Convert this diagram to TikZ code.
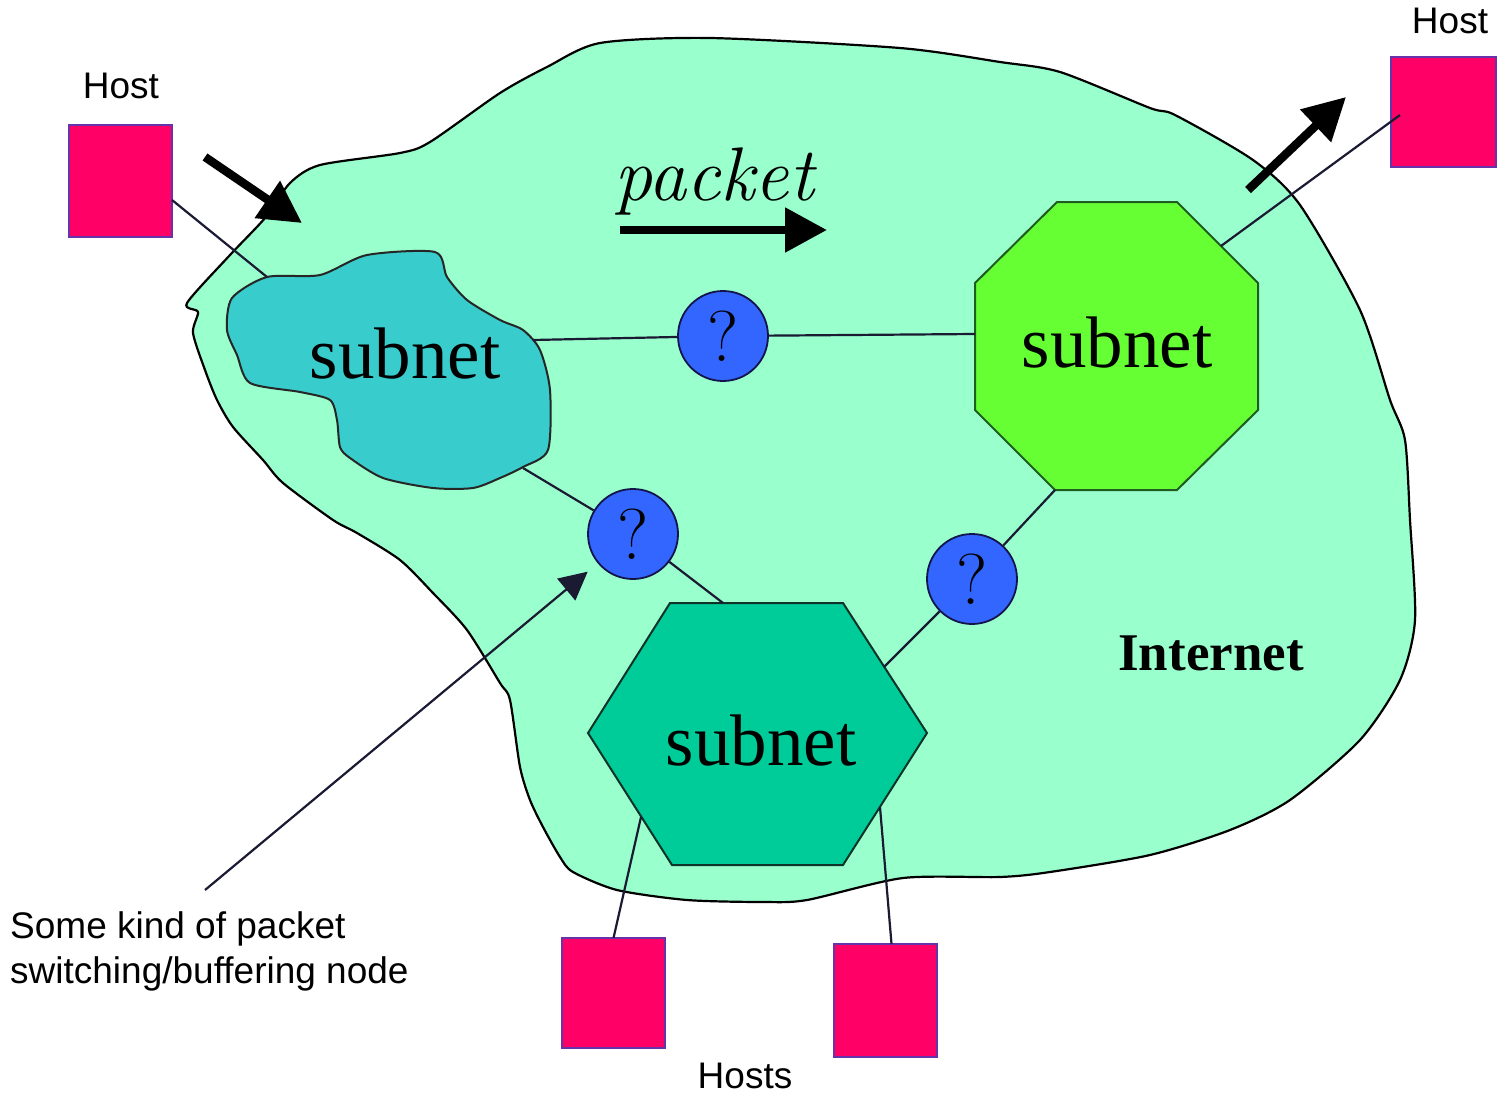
\documentclass[tikz,border=0pt]{standalone}
\usepackage{fontspec}
\newfontfamily\sansf{Liberation Sans}
\newfontfamily\serf{Liberation Serif}
\usetikzlibrary{arrows.meta,calc}
\definecolor{inetfill}{HTML}{99FFCC}
\definecolor{blobfill}{HTML}{38CCCC}
\definecolor{octfill}{HTML}{66FF33}
\definecolor{octedge}{HTML}{1F5C1F}
\definecolor{hexfill}{HTML}{00CC99}
\definecolor{hexedge}{HTML}{0F3328}
\definecolor{qfill}{HTML}{3366FF}
\definecolor{qedge}{HTML}{14144D}
\definecolor{hostfill}{HTML}{FF0066}
\definecolor{hostedge}{HTML}{6633AA}
\definecolor{linkc}{HTML}{1A1A33}
\begin{document}
\begin{tikzpicture}[x=1pt,y=-1pt,
  hostbox/.style={draw=hostedge, line width=2pt, fill=hostfill, inner sep=0pt, outer sep=0pt},
  qnode/.style={circle, draw=qedge, line width=1.8pt, fill=qfill, minimum size=90pt, inner sep=0pt,
    font=\fontsize{72}{72}\selectfont},
  link/.style={draw=linkc, line width=2.2pt},
  fatarrow/.style={line width=8.5pt, -{Triangle[length=42pt,width=43pt]}},
  hostlabel/.style={anchor=base, inner sep=0pt, font=\sansf\fontsize{37}{44}\selectfont},
  subnetlabel/.style={anchor=base, inner sep=0pt, font=\serf\fontsize{73}{80}\selectfont},
  shapeedge/.style={line width=2pt}
]
\useasboundingbox (0,0) rectangle (1499,1095);
\fill[white] (0,0) rectangle (1499,1095);

% Internet cloud
\draw[line width=2.2pt, fill=inetfill] plot[smooth cycle, tension=0.45] coordinates {
 (187,303) (230,255) (265,218) (290,183) (320,165) (400,153) (430,142) (500,93)
 (547,67) (600,43) (710,38) (900,48) (1000,62) (1060,72) (1150,108) (1175,115)
 (1253,160) (1300,205) (1360,310) (1390,400) (1405,440) (1410,520) (1415,620)
 (1400,680) (1360,740) (1290,800) (1230,830) (1150,855) (1050,872) (1000,877)
 (903,878) (807,900) (763,902) (687,900) (617,890) (573,872) (560,857) (543,827)
 (530,800) (520,767) (510,700) (500,683) (467,630) (433,593) (400,560) (357,533)
 (333,520) (283,483) (263,460) (233,427) (217,400) (205,370) (193,333) (198,312)};

% cyan subnet blob
\draw[shapeedge, draw=black!85, fill=blobfill] plot[smooth cycle, tension=0.45] coordinates {
 (267,277) (320,275) (367,255) (435,252) (447,277) (467,300) (500,320) (523,330)
 (540,350) (550,390) (548,450) (523,467) (500,478) (473,488) (433,488) (383,478)
 (350,458) (340,447) (337,420) (330,400) (300,392) (250,383) (237,355) (227,330) (232,298)};

% octagon subnet
\draw[shapeedge, draw=octedge, fill=octfill] (1057,202) -- (1177,202) -- (1258,283) -- (1258,410)
  -- (1177,490) -- (1055,490) -- (975,410) -- (975,283) -- cycle;

% hexagon subnet
\draw[shapeedge, draw=hexedge, fill=hexfill] (670,603) -- (843,603) -- (927,733) -- (843,865)
  -- (672,865) -- (588,733) -- cycle;

% connection points on the subnets
\coordinate (bTL) at (267,277);
\coordinate (bR) at (533,340);
\coordinate (bBR) at (523,468);
\coordinate (oL) at (975,334);
\coordinate (oBL) at (1055,490);
\coordinate (oNE) at (1221,246);
\coordinate (xT) at (723,603);
\coordinate (xNE) at (884,667);
\coordinate (xSW) at (641,817);
\coordinate (xSE) at (880,807);

% hosts
\node[hostbox, minimum width=103pt, minimum height=112pt] (h1) at (120.5,181) {};
\node[hostbox, minimum width=105pt, minimum height=110pt] (h2) at (1443.5,112) {};
\node[hostbox, minimum width=103pt, minimum height=110pt] (h3) at (613.5,993) {};
\node[hostbox, minimum width=103pt, minimum height=113pt] (h4) at (885.5,1000.5) {};

% switching nodes
\node[qnode] (c1) at (723,336) {?};
\node[qnode] (c2) at (633,534) {?};
\node[qnode] (c3) at (972,579) {?};

% links
\draw[link] ([yshift=-19pt]h1.east) -- (bTL);
\draw[link] (bR) -- (c1);
\draw[link] (c1) -- (oL);
\draw[link] (bBR) -- (c2);
\draw[link] (c2) -- (xT);
\draw[link] (xNE) -- (c3);
\draw[link] (c3) -- (oBL);
\draw[link] (oNE) -- ($(h2.west)+(9,3)$);
\draw[link] (xSW) -- (h3.north);
\draw[link] (xSE) -- ([xshift=6pt]h4.north);

% fat arrows
\coordinate (a1s) at (205,157); \coordinate (a1e) at (302,223);
\coordinate (a2s) at (1248,190); \coordinate (a2e) at (1346,97);
\coordinate (pks) at (620,230); \coordinate (pke) at (827,230);
\draw[fatarrow] (a1s) -- (a1e);
\draw[fatarrow] (a2s) -- (a2e);
\draw[fatarrow] (pks) -- (pke);

% annotation arrow
\coordinate (ann) at (205,890);
\draw[link, -{Triangle[length=28pt,width=28pt]}, shorten >=13pt] (ann) -- (c2);

% labels
\node[hostlabel] (lh1) at (121,98) {Host};
\node[hostlabel] (lh2) at (1450,33) {Host};
\node[hostlabel] (lh3) at (745,1088) {Hosts};
\node[anchor=base west, inner sep=0pt, font=\sansf\fontsize{37}{44}\selectfont] (an1) at (10,938) {Some kind of packet};
\node[anchor=base west, inner sep=0pt, font=\sansf\fontsize{37}{44}\selectfont] (an2) at (10,983) {switching/buffering node};

\node[anchor=base west, inner sep=0pt, font=\itshape\fontsize{76}{80}\selectfont] (pk) at (614,200) {packet};

\node[subnetlabel] (s1) at (405,378) {subnet};
\node[subnetlabel] (s2) at (1117,367) {subnet};
\node[subnetlabel] (s3) at (761,765) {subnet};

\node[anchor=base, inner sep=0pt, font=\serf\bfseries\fontsize{53}{60}\selectfont] (inet) at (1211,670) {Internet};
\end{tikzpicture}
\end{document}
